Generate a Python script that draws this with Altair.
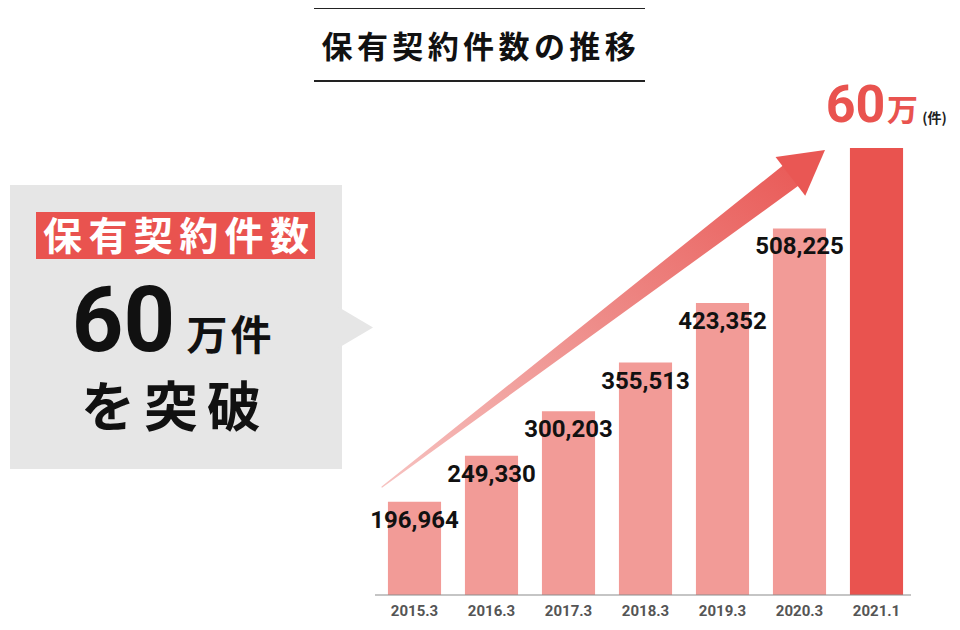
import altair as alt
import pandas as pd

# ---- data -------------------------------------------------------------
periods = ["2015.3", "2016.3", "2017.3", "2018.3", "2019.3", "2020.3", "2021.1"]
contracts = [196964, 249330, 300203, 355513, 423352, 508225, 600000]

title_text = "保有契約件数の推移"
badge_text = "保有契約件数"
headline_num = "60"
headline_unit = "万件"
headline_tail = "を突破"
peak_num = "60"
peak_unit = "万"
peak_note = "(件)"

# ---- layout helpers ---------------------------------------------------
OX, OY = 8, 12          # page offset of the plot origin (margin + top padding)
BASE = 595              # baseline of bars (page px)
W = 944
H = BASE - OY
JP = "Noto Sans CJK JP"
NUM = "Roboto"
RED = "#E9534F"
PINK = "#F29B97"
GREY_BOX = "#E6E6E6"

one = pd.DataFrame({"k": [0]})


def rect(x1, x2, y1, y2, color):
    return alt.Chart(one).mark_rect(color=color).encode(
        x=alt.value(x1 - OX), x2=alt.value(x2 - OX),
        y=alt.value(y1 - OY), y2=alt.value(y2 - OY))


def hrule(x1, x2, y, color, w):
    return alt.Chart(one).mark_rule(color=color, strokeWidth=w).encode(
        x=alt.value(x1 - OX), x2=alt.value(x2 - OX), y=alt.value(y - OY))


def label(text, cx, base_y, size, color, font, weight="bold"):
    return alt.Chart(pd.DataFrame({"t": [text]})).mark_text(
        font=font, fontSize=size, fontWeight=weight, color=color,
        align="center", baseline="alphabetic").encode(
        x=alt.value(cx - OX), y=alt.value(base_y - OY), text="t:N")


def spaced(text, first_cx, pitch, base_y, size, color, font=JP):
    df = pd.DataFrame({"ch": list(text),
                       "cx": [first_cx - OX + i * pitch for i in range(len(text))]})
    return alt.Chart(df).mark_text(
        font=font, fontSize=size, fontWeight="bold", color=color,
        align="center", baseline="alphabetic").encode(
        x=alt.X("cx:Q", scale=None, axis=None),
        y=alt.value(base_y - OY), text="ch:N")


# ---- decorations ------------------------------------------------------
title_layers = [
    hrule(314, 645, 8, "#222222", 2),
    hrule(314, 645, 81, "#222222", 2),
    spaced(title_text, 337, 35.4, 58, 31, "#111111"),
]

callout_layers = [
    rect(10, 342, 185, 469, GREY_BOX),
    alt.Chart(one).mark_point(
        shape="M -1 -1 L 0.69 0 L -1 1 Z", filled=True, size=2025,
        color=GREY_BOX, opacity=1, strokeWidth=0).encode(
        x=alt.value(357.5 - OX), y=alt.value(327.5 - OY)),
    rect(36, 315, 212, 259, RED),
    spaced(badge_text, 62.5, 45.4, 250, 39, "#FFFFFF"),
    label(headline_num, 123.5, 351, 90, "#111111", NUM),
    spaced(headline_unit, 207, 44, 350, 41, "#111111"),
    spaced(headline_tail, 108, 63, 427, 54, "#111111"),
]

arrow_grad = alt.LinearGradient(
    gradient="linear",
    stops=[alt.GradientStop(color="#F7C3C1", offset=0),
           alt.GradientStop(color="#EE8C89", offset=0.5),
           alt.GradientStop(color="#E95855", offset=1)],
    x1=0, y1=1, x2=1, y2=0)

arrow_df = pd.DataFrame({"px": [382 - OX, 798 - OX],
                         "py": [487 - OY, 170 - OY],
                         "w": [1.2, 26]})
arrow_layers = [
    alt.Chart(arrow_df).mark_trail(color=arrow_grad).encode(
        x=alt.X("px:Q", scale=None, axis=None),
        y=alt.Y("py:Q", scale=None, axis=None),
        size=alt.Size("w:Q", scale=None, legend=None)),
    alt.Chart(one).mark_point(
        shape="M 1 0 L -1 -1.126 L -1 1.126 Z", filled=True, size=1892,
        angle=322.7, color="#E95754", opacity=1, strokeWidth=0).encode(
        x=alt.value(807.7 - OX), y=alt.value(163.2 - OY)),
]

peak_layers = [
    label(peak_num, 855.5, 122, 52, RED, NUM),
    label(peak_unit, 902.5, 121, 31, RED, JP),
    label(peak_note, 934.5, 123, 14, "#222222", JP),
]

# ---- bars -------------------------------------------------------------
data = pd.DataFrame({"period": periods, "contracts": contracts})

x_enc = alt.X("period:N", sort=periods,
              scale=alt.Scale(range=[376 - OX, 915 - OX], paddingInner=0.31, paddingOuter=0.155),
              axis=alt.Axis(title=None, domain=False, ticks=False, grid=False,
                            labelFont=NUM, labelFontSize=15, labelFontWeight="bold",
                            labelColor="#555555", labelPadding=8, labelAngle=0))
y_enc = alt.Y("contracts:Q", stack=None,
              scale=alt.Scale(domain=[90800, 754800], zero=False, nice=False, clamp=True),
              axis=None)

base = alt.Chart(data)
bars = base.mark_bar().encode(
    x=x_enc, y=y_enc, y2=alt.value(H),
    color=alt.when(alt.datum.period == periods[-1]).then(alt.value(RED)).otherwise(alt.value(PINK)),
)
values = base.transform_filter(alt.datum.period != periods[-1]).mark_text(
    font=NUM, fontSize=24, fontWeight="bold", color="#111111",
    baseline="top", dy=7).encode(
    x=x_enc, y=y_enc, text=alt.Text("contracts:Q", format=","))

bar_group = alt.layer(bars, values)

baseline_rule = hrule(375, 911, BASE, "#8C8C8C", 1.2)

chart = alt.layer(
    *callout_layers, *title_layers, *arrow_layers, bar_group, baseline_rule, *peak_layers
).resolve_scale(x="independent", y="independent").properties(
    width=W, height=H,
    padding={"left": 0, "right": 0, "top": OY - 8, "bottom": 27},
    autosize="none", background="#FFFFFF",
).configure_view(stroke=None)

chart.save("out.html", embed_options={"renderer": "svg", "actions": False})
